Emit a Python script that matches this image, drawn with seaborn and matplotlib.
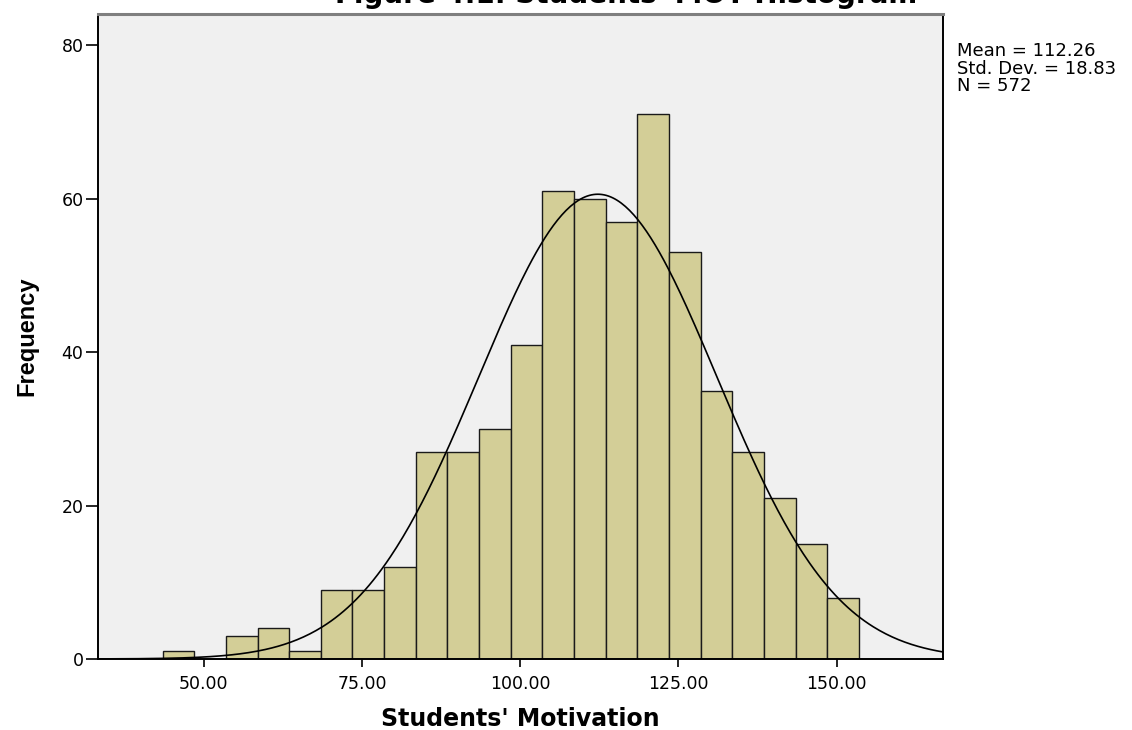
import numpy as np
import pandas as pd
import matplotlib
matplotlib.use("Agg")
import matplotlib.pyplot as plt
import seaborn as sns

# Histogram data (bin width 5, first bin starts at 43.5)
bin_start = 43.5
bin_width = 5
counts = [1, 0, 3, 4, 1, 9, 9, 12, 27, 27, 30, 41, 61, 60, 57, 71, 53, 35, 27, 21, 15, 8]

mean_val = 112.26
std_val = 18.83
n_val = 572

x_ticks = [50, 75, 100, 125, 150]
x_tick_labels = ["50.00", "75.00", "100.00", "125.00", "150.00"]
y_ticks = [0, 20, 40, 60, 80]

bin_end = bin_start + bin_width * len(counts)
mids = bin_start + bin_width * (np.arange(len(counts)) + 0.5)
df = pd.DataFrame({"score": mids, "freq": counts})

sns.set_style("white")
plt.rcParams["font.family"] = ["DejaVu Sans"]
plt.rcParams["text.color"] = "black"
plt.rcParams["axes.labelcolor"] = "black"

fig = plt.figure(figsize=(11.32, 7.30), dpi=100)
ax = fig.add_axes([0.0866, 0.0973, 0.7465, 0.8836])
ax.set_facecolor("#F0F0F0")

sns.histplot(data=df, x="score", weights="freq", binwidth=bin_width,
             binrange=(bin_start, bin_end), ax=ax,
             color="#D3CE97", edgecolor="#1a1a1a", linewidth=1.0, alpha=1.0)

# normal curve
xmin, xmax = 33.3, 166.8
xs = np.linspace(xmin, xmax, 400)
ys = n_val * bin_width / (std_val * np.sqrt(2 * np.pi)) * np.exp(-0.5 * ((xs - mean_val) / std_val) ** 2)
sns.lineplot(x=xs, y=ys, ax=ax, color="black", linewidth=1.2)

ax.set_xlim(xmin, xmax)
ax.set_ylim(0, 84.1)
ax.set_xticks(x_ticks)
ax.set_xticklabels(x_tick_labels)
ax.set_yticks(y_ticks)
ax.tick_params(axis="x", direction="out", length=6, width=1.2, pad=5.5,
               labelsize=12.5, colors="black", bottom=True)
ax.tick_params(axis="y", direction="out", length=9, width=1.2, pad=1.5,
               labelsize=12.5, colors="black", left=True)
for s in ax.spines.values():
    s.set_color("black")
    s.set_linewidth(1.4)
ax.spines["top"].set_color("#7f7f7f")
ax.spines["top"].set_linewidth(2.2)

ax.set_xlabel("Students' Motivation", fontsize=17, fontweight="bold")
ax.xaxis.set_label_coords(0.5, -0.074)
ax.set_ylabel("Frequency", fontsize=17, fontweight="bold",
              family=["Liberation Sans", "DejaVu Sans"])
ax.yaxis.set_label_coords(-0.071, 0.5)

# title sits mostly above the top edge, as in the source image
fig.text(335 / 1132, 0.9965, "Figure 4.1: Students' MOT Histogram", ha="left", va="baseline",
         fontsize=20, fontweight="bold")

fig.text(957 / 1132, 0.942, f"Mean = {mean_val:.2f}\nStd. Dev. = {std_val:.2f}\nN = {n_val}",
         ha="left", va="top", fontsize=13, linespacing=0.95)

fig.savefig("out.png", dpi=100)
